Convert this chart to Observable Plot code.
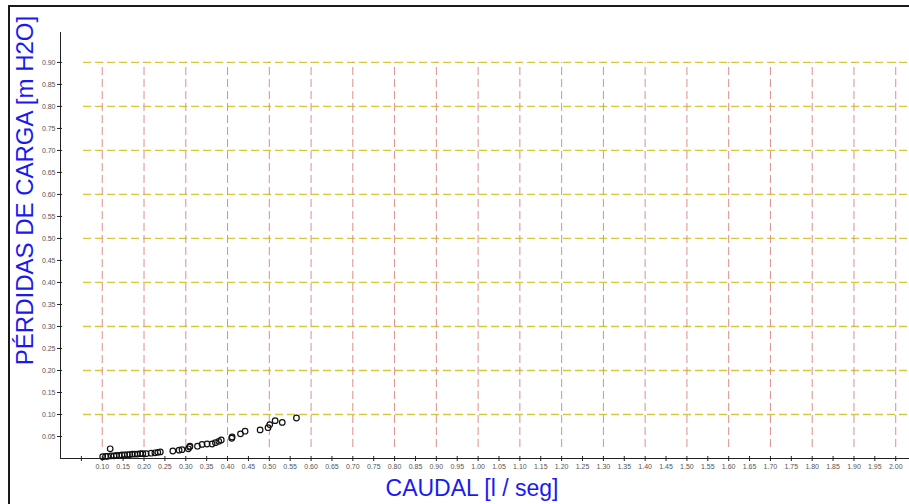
<!DOCTYPE html>
<html>
<head>
<meta charset="utf-8">
<script src="https://cdn.jsdelivr.net/npm/d3@7"></script>
<script src="https://cdn.jsdelivr.net/npm/@observablehq/plot@0.6"></script>
<style>
  html, body { margin: 0; padding: 0; background: #fff; overflow: hidden; }
  #wrap { position: relative; width: 909px; height: 504px; overflow: hidden; }
  #frame { position: absolute; left: 8px; top: 5px; width: 1000px; height: 1000px; border: 2px solid #1a1a1a; box-sizing: border-box; pointer-events: none; }
  #chart { position: absolute; left: 0; top: 0; }
</style>
</head>
<body>
<div id="wrap"><div id="chart"></div><div id="frame"></div></div>
<script>
const xTitle = "CAUDAL [l / seg]";
const yTitle = "PÉRDIDAS DE CARGA [m H2O]";

const caudal = [0.101,0.108,0.113,0.119,0.121,0.128,0.134,0.141,0.147,0.153,0.160,0.166,0.172,0.178,0.184,0.191,0.197,0.205,0.217,0.226,0.233,0.239,0.269,0.284,0.291,0.306,0.309,0.310,0.328,0.339,0.351,0.363,0.371,0.379,0.385,0.410,0.411,0.431,0.442,0.478,0.497,0.501,0.514,0.531,0.565];
const perdidas = [0.004,0.005,0.005,0.022,0.006,0.006,0.007,0.007,0.008,0.008,0.009,0.009,0.010,0.010,0.010,0.011,0.011,0.011,0.012,0.013,0.014,0.015,0.017,0.019,0.020,0.022,0.026,0.028,0.028,0.032,0.033,0.033,0.036,0.039,0.042,0.046,0.049,0.056,0.062,0.065,0.070,0.077,0.086,0.082,0.092];

const xTicks = [0.05,0.10,0.15,0.20,0.25,0.30,0.35,0.40,0.45,0.50,0.55,0.60,0.65,0.70,0.75,0.80,0.85,0.90,0.95,1.00,1.05,1.10,1.15,1.20,1.25,1.30,1.35,1.40,1.45,1.50,1.55,1.60,1.65,1.70,1.75,1.80,1.85,1.90,1.95,2.00];
const xTickLabels = [0.10,0.15,0.20,0.25,0.30,0.35,0.40,0.45,0.50,0.55,0.60,0.65,0.70,0.75,0.80,0.85,0.90,0.95,1.00,1.05,1.10,1.15,1.20,1.25,1.30,1.35,1.40,1.45,1.50,1.55,1.60,1.65,1.70,1.75,1.80,1.85,1.90,1.95,2.00];
const yTicks = [0.05,0.10,0.15,0.20,0.25,0.30,0.35,0.40,0.45,0.50,0.55,0.60,0.65,0.70,0.75,0.80,0.85,0.90];
const xGrid = [0.1,0.2,0.3,0.4,0.5,0.6,0.7,0.8,0.9,1.0,1.1,1.2,1.3,1.4,1.5,1.6,1.7,1.8,1.9,2.0];
const yGrid = [0.1,0.2,0.3,0.4,0.5,0.6,0.7,0.8,0.9];

const data = caudal.map((c, i) => ({caudal: c, perdida: perdidas[i]}));

const plot = Plot.plot({
  width: 909,
  height: 504,
  marginLeft: 60,
  marginRight: 0,
  marginTop: 32,
  marginBottom: 46,
  style: {fontFamily: "Liberation Sans, Arial, sans-serif", background: "transparent"},
  x: {domain: [0, 2.033], label: null},
  y: {domain: [0, 0.968], label: null},
  marks: [
    // grid
    Plot.ruleY(yGrid, {y: d => d, x1: 0.055, x2: 2.033, stroke: "#d3c93a", strokeWidth: 1.3, strokeDasharray: "8,4"}),
    Plot.ruleX(xGrid, {x: d => d, y1: 0.025, y2: 0.9, stroke: "#e08c8c", strokeWidth: 1, strokeDasharray: "8,4"}),
    // axis lines
    Plot.ruleY([0], {x1: 0, x2: 2.033, stroke: "#222", strokeWidth: 1}),
    Plot.ruleX([0], {y1: 0, y2: 0.968, stroke: "#222", strokeWidth: 1}),
    // tick marks crossing the axes
    Plot.ruleX(xTicks, {x: d => d, y1: 0, y2: 0, insetTop: -2, insetBottom: -3, stroke: "#222"}),
    Plot.ruleY(yTicks, {y: d => d, x1: 0, x2: 0, insetLeft: -3, insetRight: -2, stroke: "#222"}),
    // tick labels
    Plot.axisX({ticks: xTickLabels, tickSize: 0, tickPadding: 6, tickFormat: d => d.toFixed(2), fontSize: 7, fill: "#555", label: null}),
    Plot.axisY({ticks: yTicks, tickSize: 0, tickPadding: 5, tickFormat: d => d.toFixed(2), fontSize: 7, fill: "#555", label: null}),
    // data
    Plot.dot(data, {x: "caudal", y: "perdida", r: 2.8, stroke: "#111", strokeWidth: 1.2, fill: "none"}),
    // titles
    Plot.text([xTitle], {text: d => d, frameAnchor: "bottom", dx: -13, dy: 30, lineAnchor: "middle", textAnchor: "middle", fontSize: 23, fill: "#1a1af0"}),
    Plot.text([yTitle], {text: d => d, frameAnchor: "left", rotate: -90, dx: -35, dy: -55, lineAnchor: "middle", textAnchor: "middle", fontSize: 24, fill: "#1a1af0"})
  ]
});
document.getElementById("chart").appendChild(plot);
</script>
</body>
</html>
